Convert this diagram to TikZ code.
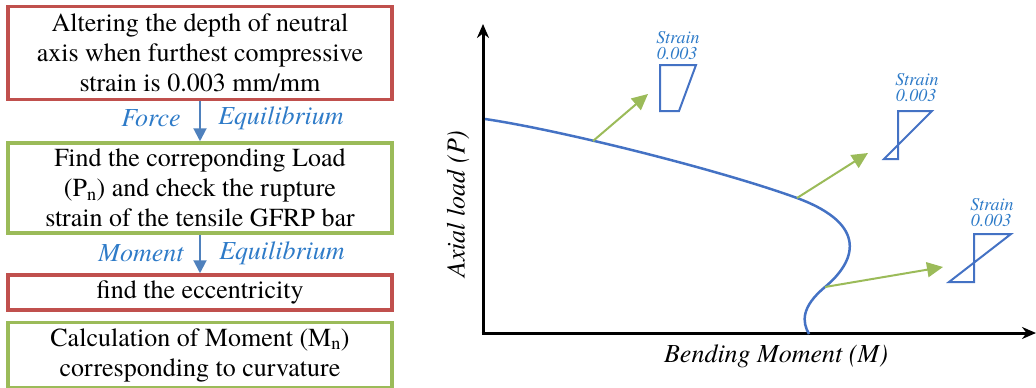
\documentclass[tikz,border=0pt]{standalone}
\usepackage{fontspec}
\setmainfont{texgyretermes}[Extension=.otf, UprightFont=*-regular, ItalicFont=*-italic, BoldFont=*-bold, BoldItalicFont=*-bolditalic]
\usetikzlibrary{arrows.meta}
\definecolor{boxred}{HTML}{C0504D}
\definecolor{boxgreen}{HTML}{9BBB59}
\definecolor{arrblue}{HTML}{4F81BD}
\definecolor{txtblue}{HTML}{2E7BC8}
\definecolor{curveblue}{HTML}{4472C4}
\tikzset{
  flowbox/.style={draw, line width=3.5pt, minimum width=384pt, inner sep=0pt, align=center,
    font=\fontsize{26}{30}\selectfont},
  redbox/.style={flowbox, draw=boxred},
  greenbox/.style={flowbox, draw=boxgreen},
  flowarrow/.style={draw=arrblue, line width=2pt, -{Triangle[length=13pt,width=13pt]}},
  eqlabel/.style={text=txtblue, font=\fontsize{26}{30}\selectfont\itshape},
  axisline/.style={line width=3pt, -{Stealth[length=14pt,width=12pt]}},
  axislabel/.style={font=\fontsize{26}{30}\selectfont\itshape},
  ptr/.style={draw=boxgreen, line width=2pt, -{Triangle[length=16pt,width=15pt]}},
  strainshape/.style={draw=curveblue, line width=2pt, line join=miter},
  straintext/.style={text=txtblue, font=\fontsize{18}{15}\selectfont\itshape, inner sep=0pt}
}
\begin{document}
\begin{tikzpicture}[x=1pt,y=-1pt]
\useasboundingbox (0,0) rectangle (1036,388);
% flowchart
\node[redbox, minimum height=93pt] (b1) at (200,53) {Altering the depth of neutral\\axis when furthest compressive\\strain is 0.003 mm/mm};
\node[greenbox, minimum height=90pt] (b2) at (200,188) {Find the correponding Load\\(P\textsubscript{n}) and check the rupture\\strain of the tensile GFRP bar};
\node[redbox, minimum height=35pt] (b3) at (200,292.5) {find the eccentricity};
\node[greenbox, minimum height=65pt] (b4) at (200,355) {Calculation of Moment (M\textsubscript{n})\\corresponding to curvature};
\draw[flowarrow] (b1.south) -- (b2.north);
\draw[flowarrow] (b2.south) -- (b3.north);
\node[eqlabel] (f1) at (151,118) {Force};
\node[eqlabel] (f2) at (281,118) {Equilibrium};
\node[eqlabel] (m1) at (141,253) {Moment};
\node[eqlabel] (m2) at (282,253) {Equilibrium};
% chart axes
\coordinate (O) at (483,333);
\coordinate (Ytop) at (483,24);
\coordinate (Xend) at (1036,333);
\draw[axisline] ([yshift=1.5pt]O) -- (Ytop);
\draw[axisline] ([xshift=-1.5pt]O) -- (Xend);
\node[axislabel, rotate=90] (ylab) at (458,204) {Axial load (\textit{P})};
\node[axislabel] (xlab) at (776,356) {Bending Moment (\textit{M})};
% interaction curve
\draw[curveblue, line width=2.5pt]
  (485,119) .. controls (560,130) and (720,170) .. (797,198)
  .. controls (870,225) and (855,262) .. (825,287)
  .. controls (801,307) and (802,322) .. (809,334);
\coordinate (c1) at (593,141);
\coordinate (c2) at (797,198);
\coordinate (c3) at (825,287);
% strain diagrams
\coordinate (t1) at (648,94);
\coordinate (t2) at (868,153);
\coordinate (t3) at (943,267);
\draw[strainshape] (660,65) -- (696,65) -- (679,111) -- (660,111) -- cycle;
\draw[strainshape] (884,159) -- (898,159) -- (898,111) -- (932,111) -- cycle;
\draw[strainshape] (949,282) -- (974,282) -- (974,234) -- (1011,234) -- cycle;
\node[straintext] (s1a) at (678,38) {Strain};
\node[straintext] (s1b) at (677,54) {0.003};
\node[straintext] (s2a) at (917,80) {Strain};
\node[straintext] (s2b) at (916,96) {0.003};
\node[straintext] (s3a) at (992,205) {Strain};
\node[straintext] (s3b) at (991,221) {0.003};
\draw[ptr] (c1) -- (t1);
\draw[ptr] (c2) -- (t2);
\draw[ptr] (c3) -- (t3);
\end{tikzpicture}
\end{document}
